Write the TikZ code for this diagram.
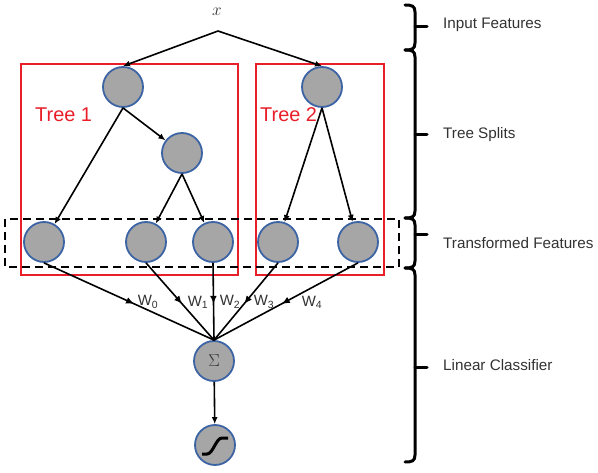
\documentclass[tikz,border=0pt]{standalone}
\usepackage{fontspec}
\setmainfont{Liberation Sans}
\usetikzlibrary{arrows.meta,decorations.markings}
\definecolor{nodeblue}{RGB}{60,100,165}
\definecolor{nodegray}{RGB}{166,166,166}
\definecolor{treered}{RGB}{232,30,40}
\definecolor{labelgray}{RGB}{50,50,50}
\tikzset{
  feat/.style={circle,draw=nodeblue,fill=nodegray,line width=1.8bp,minimum size=40bp,inner sep=0pt},
  edge/.style={line width=1.6bp,-{Latex[length=7bp,width=6bp]}},
  wedge/.style={line width=1.6bp,postaction={decorate},decoration={markings,mark=at position 0.53 with {\arrow{Latex[length=8bp,width=7bp]}}}},
  treebox/.style={draw=treered,line width=2.2bp},
  treelabel/.style={text=treered,font=\fontsize{20}{23}\selectfont,inner sep=0pt,anchor=west},
  brace/.style={line width=3bp,line cap=round},
  sidelabel/.style={text=labelgray,font=\fontsize{15.3}{18}\selectfont,anchor=west,inner sep=0pt},
  wlabel/.style={text=labelgray,font=\fontsize{15}{17}\selectfont,inner sep=0pt}
}
\begin{document}
\begin{tikzpicture}[x=1bp,y=-1bp]
\useasboundingbox (0,0) rectangle (598,473);
% boxes
\draw[treebox] (21,64) rectangle (238,275);
\draw[treebox] (256,64) rectangle (384,275);
\draw[line width=2.2bp,dash pattern=on 8bp off 5bp] (5,219) rectangle (399,267);
\node[treelabel] (t1) at (35,115) {Tree 1};
\node[treelabel] (t2) at (260,115) {Tree 2};
% input
\node[text=labelgray,font=\fontsize{17}{19}\selectfont,inner sep=0pt] (xin) at (217,12) {$x$};
\coordinate (apex) at (218,31);
% nodes
\node[feat] (a) at (123,87) {};
\node[feat] (b) at (182,153) {};
\node[feat] (c1) at (44,242) {};
\node[feat] (c2) at (146,242) {};
\node[feat] (c3) at (213,242) {};
\node[feat] (d) at (322,87) {};
\node[feat] (e1) at (278,242) {};
\node[feat] (e2) at (358,242) {};
\node[feat,text=labelgray,font=\fontsize{17}{19}\selectfont] (sig) at (214,361) {$\Sigma$};
\node[feat] (out) at (215,445) {};
% edges
\draw[edge] (apex) -- (a.north);
\draw[edge] (apex) -- (d.north);
\draw[edge] (a.south) -- (c1);
\draw[edge] (a.south) -- (b);
\draw[edge] (b.south) -- (c2);
\draw[edge] (b.south) -- (c3);
\draw[edge] (d.south) -- (e1);
\draw[edge] (d.south) -- (e2);
\draw[wedge] (c1.south) -- (sig.north);
\draw[wedge] (c2.south) -- (sig.north);
\draw[wedge] (c3.south) -- (sig.north);
\draw[wedge] (e1.south) -- (sig.north);
\draw[wedge] (e2.south) -- (sig.north);
\draw[edge] (sig) -- (out);
% weights
\node[wlabel] (w0) at (148,302) {W\textsubscript{0}};
\node[wlabel] (w1) at (198,302) {W\textsubscript{1}};
\node[wlabel] (w2) at (230,302) {W\textsubscript{2}};
\node[wlabel] (w3) at (264,302) {W\textsubscript{3}};
\node[wlabel] (w4) at (312,302) {W\textsubscript{4}};
% sigmoid
\draw[line width=3bp] (202,454) -- (207,454) .. controls (213,454) and (216,438) .. (222,438) -- (228,438);
% braces
\draw[brace] (405,5) .. controls (412,5) and (415,6) .. (415,12) -- (415,43) .. controls (415,49) and (412,50) .. (405,50);
\draw[brace] (415,27) -- (427,27);
\draw[brace] (405,50) .. controls (412,50) and (415,51) .. (415,57) -- (415,211) .. controls (415,217) and (412,218) .. (405,218);
\draw[brace] (415,135) -- (427,135);
\draw[brace] (405,218) .. controls (412,218) and (415,219) .. (415,225) -- (415,261) .. controls (415,267) and (412,268) .. (405,268);
\draw[brace] (415,235) -- (427,235);
\draw[brace] (405,268) .. controls (412,268) and (415,269) .. (415,275) -- (415,455) .. controls (415,461) and (412,462) .. (405,462);
\draw[brace] (415,367) -- (427,367);
% side labels
\node[sidelabel] (l1) at (443,25) {Input Features};
\node[sidelabel] (l2) at (443,135) {Tree Splits};
\node[sidelabel] (l3) at (443,243) {Transformed Features};
\node[sidelabel] (l4) at (443,365) {Linear Classifier};
\end{tikzpicture}
\end{document}
